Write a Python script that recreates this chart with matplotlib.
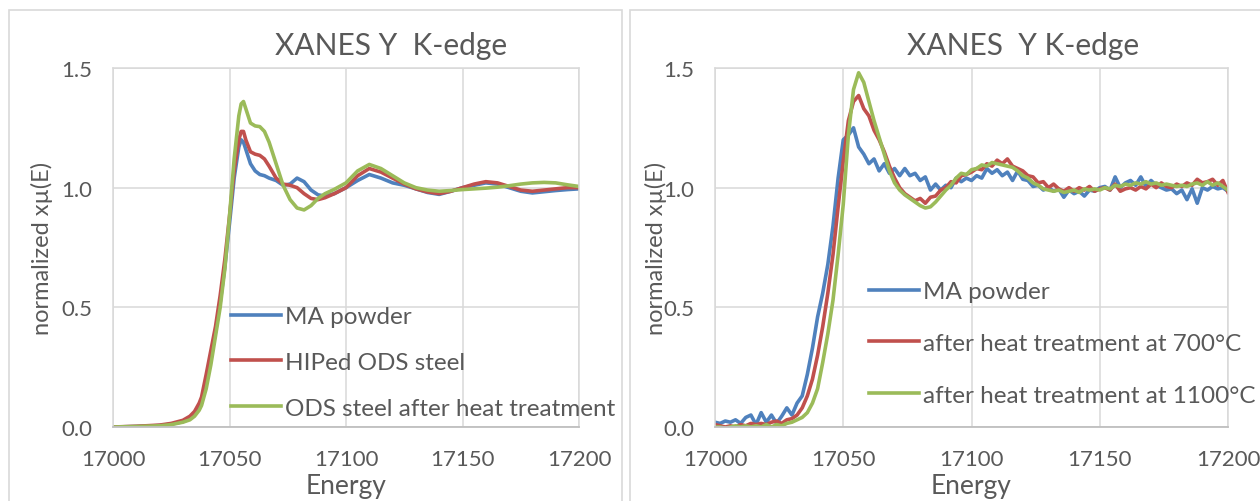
import matplotlib
matplotlib.use('Agg')
import matplotlib.pyplot as plt
from matplotlib.patches import Rectangle

plt.rcParams['font.family'] = ['Lato', 'DejaVu Sans']

# ---- left panel: smooth spectra ----
energy_left = [17000, 17010, 17020, 17025, 17030, 17033, 17035, 17037, 17038, 17040,
               17042, 17044, 17046, 17048, 17050, 17052, 17054, 17055, 17056, 17057,
               17059, 17061, 17063, 17065, 17067, 17070, 17073, 17076, 17079, 17082,
               17085, 17088, 17091, 17095, 17100, 17105, 17110, 17115, 17120, 17125,
               17130, 17135, 17140, 17145, 17150, 17155, 17160, 17165, 17170, 17175,
               17180, 17185, 17190, 17195, 17200]

ma_powder_left = [0.0, 0.002, 0.006, 0.012, 0.022, 0.035, 0.05, 0.08, 0.1, 0.18,
                  0.28, 0.4, 0.52, 0.67, 0.85, 1.04, 1.17, 1.2, 1.19, 1.16,
                  1.1, 1.07, 1.055, 1.05, 1.04, 1.03, 1.01, 1.015, 1.04, 1.025,
                  0.99, 0.97, 0.965, 0.975, 1.0, 1.03, 1.055, 1.04, 1.02, 1.01,
                  0.995, 0.98, 0.972, 0.985, 1.0, 1.01, 1.02, 1.015, 1.0, 0.985,
                  0.978, 0.983, 0.988, 0.992, 0.995]

hiped_left = [0.0, 0.003, 0.008, 0.015, 0.028, 0.045, 0.065, 0.1, 0.125, 0.22,
              0.32, 0.42, 0.55, 0.7, 0.88, 1.07, 1.2, 1.235, 1.235, 1.2,
              1.15, 1.14, 1.135, 1.12, 1.09, 1.04, 1.015, 1.01, 1.0, 0.975,
              0.955, 0.95, 0.958, 0.975, 1.0, 1.05, 1.08, 1.065, 1.04, 1.015,
              0.995, 0.982, 0.975, 0.985, 1.0, 1.015, 1.025, 1.02, 1.005, 0.99,
              0.985, 0.99, 0.995, 1.0, 1.0]

ods_ht_left = [0.0, 0.002, 0.005, 0.01, 0.02, 0.03, 0.045, 0.07, 0.09, 0.16,
               0.26, 0.38, 0.5, 0.66, 0.88, 1.12, 1.3, 1.35, 1.36, 1.33,
               1.27, 1.258, 1.255, 1.235, 1.19, 1.1, 1.01, 0.95, 0.915, 0.907,
               0.925, 0.955, 0.975, 0.993, 1.02, 1.07, 1.097, 1.08, 1.05, 1.02,
               1.0, 0.99, 0.985, 0.988, 0.992, 0.995, 0.998, 1.002, 1.008, 1.015,
               1.02, 1.022, 1.02, 1.012, 1.005]

# ---- right panel: noisy spectra ----
energy_right = [17000, 17002, 17004, 17006, 17008, 17010, 17012, 17014, 17016, 17018,
                17020, 17022, 17024, 17026, 17028, 17030, 17032, 17034, 17036, 17038,
                17040, 17042, 17044, 17046, 17048, 17050, 17052, 17054, 17056, 17058,
                17060, 17062, 17064, 17066, 17068, 17070, 17072, 17074, 17076, 17078,
                17080, 17082, 17084, 17086, 17088, 17090, 17092, 17094, 17096, 17098,
                17100, 17102, 17104, 17106, 17108, 17110, 17112, 17114, 17116, 17118,
                17120, 17122, 17124, 17126, 17128, 17130, 17132, 17134, 17136, 17138,
                17140, 17142, 17144, 17146, 17148, 17150, 17152, 17154, 17156, 17158,
                17160, 17162, 17164, 17166, 17168, 17170, 17172, 17174, 17176, 17178,
                17180, 17182, 17184, 17186, 17188, 17190, 17192, 17194, 17196, 17198,
                17200]

ma_powder_right = [0.02, 0.015, 0.025, 0.02, 0.03, 0.015, 0.04, 0.05, 0.01, 0.06,
                   0.02, 0.05, 0.015, 0.045, 0.08, 0.05, 0.1, 0.13, 0.22, 0.33,
                   0.46, 0.56, 0.68, 0.84, 1.04, 1.2, 1.22, 1.25, 1.17, 1.14,
                   1.1, 1.12, 1.07, 1.1, 1.06, 1.08, 1.05, 1.08, 1.05, 1.06,
                   1.03, 1.045, 0.99, 1.015, 0.99, 1.01, 1.0, 1.04, 1.025, 1.04,
                   1.03, 1.05, 1.04, 1.08, 1.06, 1.075, 1.05, 1.065, 1.03, 1.07,
                   1.035, 1.03, 1.005, 1.01, 0.99, 1.0, 0.985, 0.995, 0.96, 0.99,
                   0.975, 0.985, 0.965, 0.99, 0.985, 1.0, 1.005, 0.99, 1.045, 1.0,
                   1.02, 1.03, 1.01, 1.045, 1.005, 1.03, 1.01, 1.0, 0.99, 0.995,
                   0.975, 0.99, 0.95, 0.995, 0.935, 1.0, 0.99, 1.005, 0.995, 1.0,
                   0.985]

ht700_right = [0.01, 0.005, 0.0, 0.005, 0.0, 0.01, 0.005, 0.015, 0.01, 0.015,
               0.01, 0.02, 0.025, 0.015, 0.03, 0.035, 0.05, 0.08, 0.13, 0.2,
               0.3, 0.42, 0.56, 0.72, 0.92, 1.11, 1.28, 1.36, 1.385, 1.33,
               1.3, 1.24, 1.2, 1.15, 1.09, 1.04, 1.0, 0.975, 0.96, 0.945,
               0.955, 0.935, 0.96, 0.965, 0.99, 1.0, 1.025, 1.02, 1.05, 1.055,
               1.065, 1.08, 1.075, 1.1, 1.09, 1.115, 1.1, 1.12, 1.09, 1.08,
               1.07, 1.05, 1.045, 1.02, 1.025, 1.0, 1.015, 0.995, 0.985, 1.0,
               0.985, 1.0, 0.99, 1.005, 0.985, 0.995, 1.0, 0.99, 1.015, 0.985,
               0.995, 1.0, 0.99, 1.005, 0.995, 1.015, 1.0, 1.02, 1.005, 1.0,
               1.015, 1.005, 1.02, 1.01, 1.035, 1.02, 1.025, 1.035, 1.01, 1.03,
               0.98]

ht1100_right = [0.0, 0.0, -0.005, 0.0, 0.005, 0.0, 0.005, 0.0, 0.005, 0.0,
                0.01, 0.0, 0.01, 0.005, 0.015, 0.02, 0.03, 0.04, 0.06, 0.1,
                0.16, 0.27, 0.39, 0.53, 0.72, 0.93, 1.22, 1.41, 1.48, 1.44,
                1.36, 1.28, 1.21, 1.14, 1.07, 1.02, 0.99, 0.97, 0.955, 0.94,
                0.925, 0.915, 0.92, 0.94, 0.965, 0.99, 1.01, 1.04, 1.06, 1.055,
                1.075, 1.08, 1.095, 1.09, 1.105, 1.1, 1.095, 1.09, 1.085, 1.07,
                1.05, 1.04, 1.02, 1.01, 0.995, 0.99, 0.985, 0.99, 0.98, 0.985,
                0.99, 0.98, 0.995, 0.99, 0.995, 0.99, 1.0, 0.995, 1.01, 1.005,
                1.015, 1.01, 1.02, 1.015, 1.025, 1.015, 1.02, 1.01, 1.015, 1.01,
                1.005, 1.01, 1.005, 1.015, 1.02, 1.01, 1.025, 1.01, 1.02, 1.005,
                0.99]

labels_left = ['MA powder', 'HIPed ODS steel', 'ODS steel after heat treatment']
labels_right = ['MA powder', 'after heat treatment at 700°C', 'after heat treatment at 1100°C']
colors = ['#4F81BD', '#C0504D', '#9BBB59']
x_ticks = [17000, 17050, 17100, 17150, 17200]
y_ticks = [0.0, 0.5, 1.0, 1.5]

TXT = '#595959'
W, H = 1260, 502

fig = plt.figure(figsize=(12.6, 5.02), dpi=100)

# chart-area borders (Excel style)
fig.patches.append(Rectangle((9 / W, -0.05), 613 / W, 1.05 - 11 / H, transform=fig.transFigure,
                             fill=False, edgecolor='#d9d9d9', linewidth=1.2))
fig.patches.append(Rectangle((630 / W, -0.05), 640 / W, 1.05 - 11 / H, transform=fig.transFigure,
                             fill=False, edgecolor='#d9d9d9', linewidth=1.2))

ax1 = fig.add_axes([113 / W, 1 - 428 / H, (579 - 113) / W, (428 - 69) / H])
ax2 = fig.add_axes([715 / W, 1 - 428 / H, (1228 - 715) / W, (428 - 69) / H])


def style_axes(ax):
    ax.set_xlim(17000, 17200)
    ax.set_ylim(0, 1.5)
    ax.set_xticks(x_ticks)
    ax.set_yticks(y_ticks)
    ax.set_yticklabels([f'{v:.1f}' for v in y_ticks])
    ax.grid(True, color='#d9d9d9', linewidth=1.1)
    ax.set_axisbelow(True)
    for side in ['top', 'right', 'left']:
        ax.spines[side].set_color('#d9d9d9')
        ax.spines[side].set_linewidth(1.1)
    ax.spines['bottom'].set_color('#bfbfbf')
    ax.spines['bottom'].set_linewidth(1.3)
    ax.tick_params(length=0, labelsize=16, labelcolor=TXT)
    ax.tick_params(axis='y', pad=15)
    ax.tick_params(axis='x', pad=16)


style_axes(ax1)
style_axes(ax2)

for vals, lab, c in zip([ma_powder_left, hiped_left, ods_ht_left], labels_left, colors):
    ax1.plot(energy_left, vals, color=c, linewidth=2.6, label=lab)

for vals, lab, c in zip([ma_powder_right, ht700_right, ht1100_right], labels_right, colors):
    ax2.plot(energy_right, vals, color=c, linewidth=2.6, label=lab)

# legends sit inside the plot area
leg_kw = dict(frameon=False, fontsize=17.5, handlelength=2.05, handletextpad=0.18,
              borderpad=0, borderaxespad=0, labelcolor=TXT, loc='upper left',
              bbox_transform=fig.transFigure)
ax1.legend(bbox_to_anchor=(231 / W, 1 - 307 / H), labelspacing=1.02, **leg_kw)
ax2.legend(bbox_to_anchor=(869 / W, 1 - 282 / H), labelspacing=1.27, **leg_kw)

# titles and axis labels
fig.text(391 / W, 1 - 46 / H, 'XANES Y  K-edge', ha='center', va='center', fontsize=21.5, color=TXT)
fig.text(1023 / W, 1 - 46 / H, 'XANES  Y K-edge', ha='center', va='center', fontsize=21.5, color=TXT)
fig.text(346 / W, 1 - 487 / H, 'Energy', ha='center', va='center', fontsize=19, color=TXT)
fig.text(971 / W, 1 - 487 / H, 'Energy', ha='center', va='center', fontsize=19, color=TXT)
fig.text(42 / W, 1 - 248 / H, 'normalized xµ(E)', ha='center', va='center', rotation=90,
         fontsize=17, color=TXT)
fig.text(656 / W, 1 - 248 / H, 'normalized xµ(E)', ha='center', va='center', rotation=90,
         fontsize=17, color=TXT)

fig.savefig('out.png', dpi=100)
